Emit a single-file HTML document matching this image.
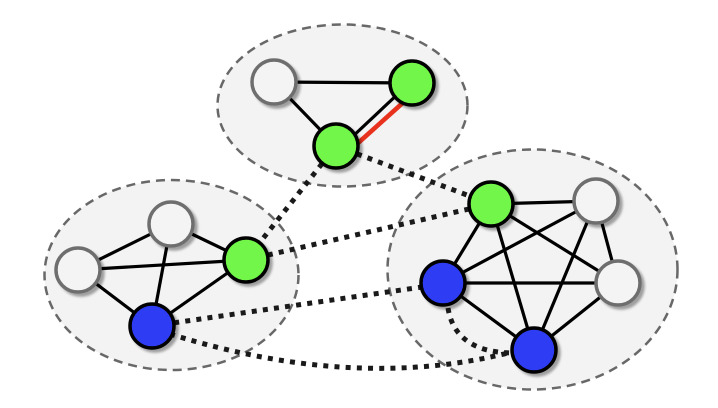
<!DOCTYPE html>
<html><head><meta charset="utf-8"><style>
html,body{margin:0;padding:0;background:#fff;}
svg{display:block;}
</style></head><body>
<svg width="718" height="408" viewBox="0 0 718 408" xmlns="http://www.w3.org/2000/svg">
<defs>
<filter id="sh" x="-30%" y="-30%" width="170%" height="170%">
<feGaussianBlur in="SourceAlpha" stdDeviation="1.3"/>
<feOffset dx="3" dy="3" result="b"/>
<feComponentTransfer><feFuncA type="linear" slope="0.35"/></feComponentTransfer>
<feMerge><feMergeNode/><feMergeNode in="SourceGraphic"/></feMerge>
</filter>
</defs>
<g fill="#f3f3f3" stroke="#686868" stroke-width="2.5" stroke-dasharray="9 6">
<ellipse cx="342.5" cy="105.5" rx="125" ry="81"/>
<ellipse cx="171.5" cy="275" rx="127" ry="95"/>
<ellipse cx="532.5" cy="269.5" rx="145" ry="120"/>
</g>
<g fill="none" stroke="#1a1a1a" stroke-width="5" stroke-dasharray="5 6.2">
<line x1="336" y1="146" x2="246" y2="260"/>
<line x1="336" y1="146" x2="491" y2="204"/>
<line x1="246" y1="260" x2="491" y2="204"/>
<line x1="152" y1="326" x2="443" y2="284"/>
<path d="M170,334 Q356,392 512,352"/>
<path d="M448,308 Q455,352 512,353"/>
</g>
<g stroke="#000" stroke-width="3.2" fill="none">
<line x1="274" y1="82" x2="412" y2="83"/>
<line x1="274" y1="82" x2="336" y2="146"/>
<line x1="350" y1="139" x2="400" y2="92"/>
<line x1="78" y1="270" x2="171" y2="224"/>
<line x1="78" y1="270" x2="246" y2="260"/>
<line x1="78" y1="270" x2="152" y2="326"/>
<line x1="171" y1="224" x2="246" y2="260"/>
<line x1="171" y1="224" x2="152" y2="326"/>
<line x1="246" y1="260" x2="152" y2="326"/>
<line x1="491" y1="204" x2="596" y2="201"/>
<line x1="491" y1="204" x2="443" y2="283"/>
<line x1="491" y1="204" x2="534" y2="350"/>
<line x1="491" y1="204" x2="618" y2="283"/>
<line x1="596" y1="201" x2="443" y2="283"/>
<line x1="596" y1="201" x2="618" y2="283"/>
<line x1="596" y1="201" x2="534" y2="350"/>
<line x1="443" y1="283" x2="618" y2="283"/>
<line x1="443" y1="283" x2="534" y2="350"/>
<line x1="618" y1="283" x2="534" y2="350"/>
</g>
<line x1="357" y1="144" x2="406" y2="100" stroke="#e8321e" stroke-width="4.6"/>
<g filter="url(#sh)" stroke-width="3.5">
<g fill="#f4f4f4" stroke="#6e6e6e">
<circle cx="274" cy="82" r="22"/>
<circle cx="78" cy="270" r="22"/>
<circle cx="171" cy="224" r="22"/>
<circle cx="596" cy="201" r="22"/>
<circle cx="618" cy="283" r="22"/>
</g>
<g fill="#72f64a" stroke="#000">
<circle cx="412" cy="83" r="22"/>
<circle cx="336" cy="146" r="22"/>
<circle cx="246" cy="260" r="22"/>
<circle cx="491" cy="204" r="22"/>
</g>
<g fill="#2e3cf4" stroke="#000">
<circle cx="152" cy="326" r="22"/>
<circle cx="443" cy="283" r="22"/>
<circle cx="534" cy="350" r="22"/>
</g>
</g>
</svg>
</body></html>
